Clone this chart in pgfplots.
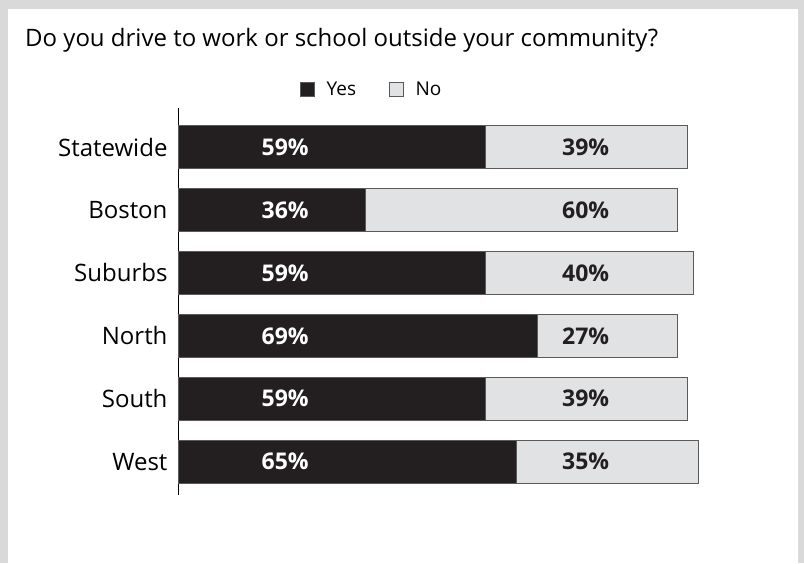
\documentclass[border=0pt]{standalone}
\usepackage{fontspec}
\setmainfont{Open Sans}
\usepackage{pgfplots}
\pgfplotsset{compat=1.18}
\definecolor{ybar}{HTML}{231F20}
\definecolor{nbar}{HTML}{E1E2E4}
\definecolor{framec}{HTML}{D9D9D9}
\definecolor{edgec}{HTML}{5A5A5A}
\tikzset{
  yl/.style={font=\bfseries\fontsize{23}{26}\selectfont, text=white},
  nl/.style={font=\bfseries\fontsize{23}{26}\selectfont, text=ybar},
}
\pgfplotsset{geom/.style={
  at={(178pt,-495pt)}, anchor=south west,
  scale only axis, width=520pt, height=387pt,
  xmin=0, xmax=100, ymin=-0.62, ymax=5.53, y dir=reverse, clip=false}}
\begin{document}
\begin{tikzpicture}[x=1pt,y=1pt]
\fill[framec] (0,0) rectangle (804,-563);
\fill[white] (8,-9) rectangle (798,-563);
\node[anchor=base west, inner sep=0pt, font=\fontsize{24}{28}\selectfont] at (25,-46) {Do you drive to work or school outside your community?};
\begin{axis}[
  geom,
  axis x line=none, axis y line*=left,
  y axis line style={-, black, line width=1pt},
  ytick={0,...,5},
  yticklabels={Statewide,Boston,Suburbs,North,South,West},
  major tick length=0pt,
  yticklabel style={font=\fontsize{24}{28}\selectfont, xshift=-7pt},
  xbar stacked, bar width=43pt,
  legend style={at={(0.229,1.049)}, anchor=west, draw=none, fill=none,
    font=\fontsize{19}{22}\selectfont, legend columns=2,
    /tikz/every odd column/.append style={column sep=10pt},
    /tikz/every even column/.append style={column sep=31pt}},
  legend image code/.code={\draw[#1] (0pt,-7pt) rectangle (14pt,7pt);},
]
\addplot[fill=ybar, draw=edgec] coordinates {(59,0) (36,1) (59,2) (69,3) (59,4) (65,5)};
\addlegendentry{Yes}
\addplot[fill=nbar, draw=edgec] coordinates {(39,0) (60,1) (40,2) (27,3) (39,4) (35,5)};
\addlegendentry{No}
\end{axis}
\begin{axis}[geom, hide axis]
\node[yl] at (axis cs:20.6,0) {59\%};
\node[yl] at (axis cs:20.6,1) {36\%};
\node[yl] at (axis cs:20.6,2) {59\%};
\node[yl] at (axis cs:20.6,3) {69\%};
\node[yl] at (axis cs:20.6,4) {59\%};
\node[yl] at (axis cs:20.6,5) {65\%};
\node[nl] at (axis cs:78.4,0) {39\%};
\node[nl] at (axis cs:78.4,1) {60\%};
\node[nl] at (axis cs:78.4,2) {40\%};
\node[nl] at (axis cs:78.4,3) {27\%};
\node[nl] at (axis cs:78.4,4) {39\%};
\node[nl] at (axis cs:78.4,5) {35\%};
\end{axis}
\end{tikzpicture}
\end{document}
